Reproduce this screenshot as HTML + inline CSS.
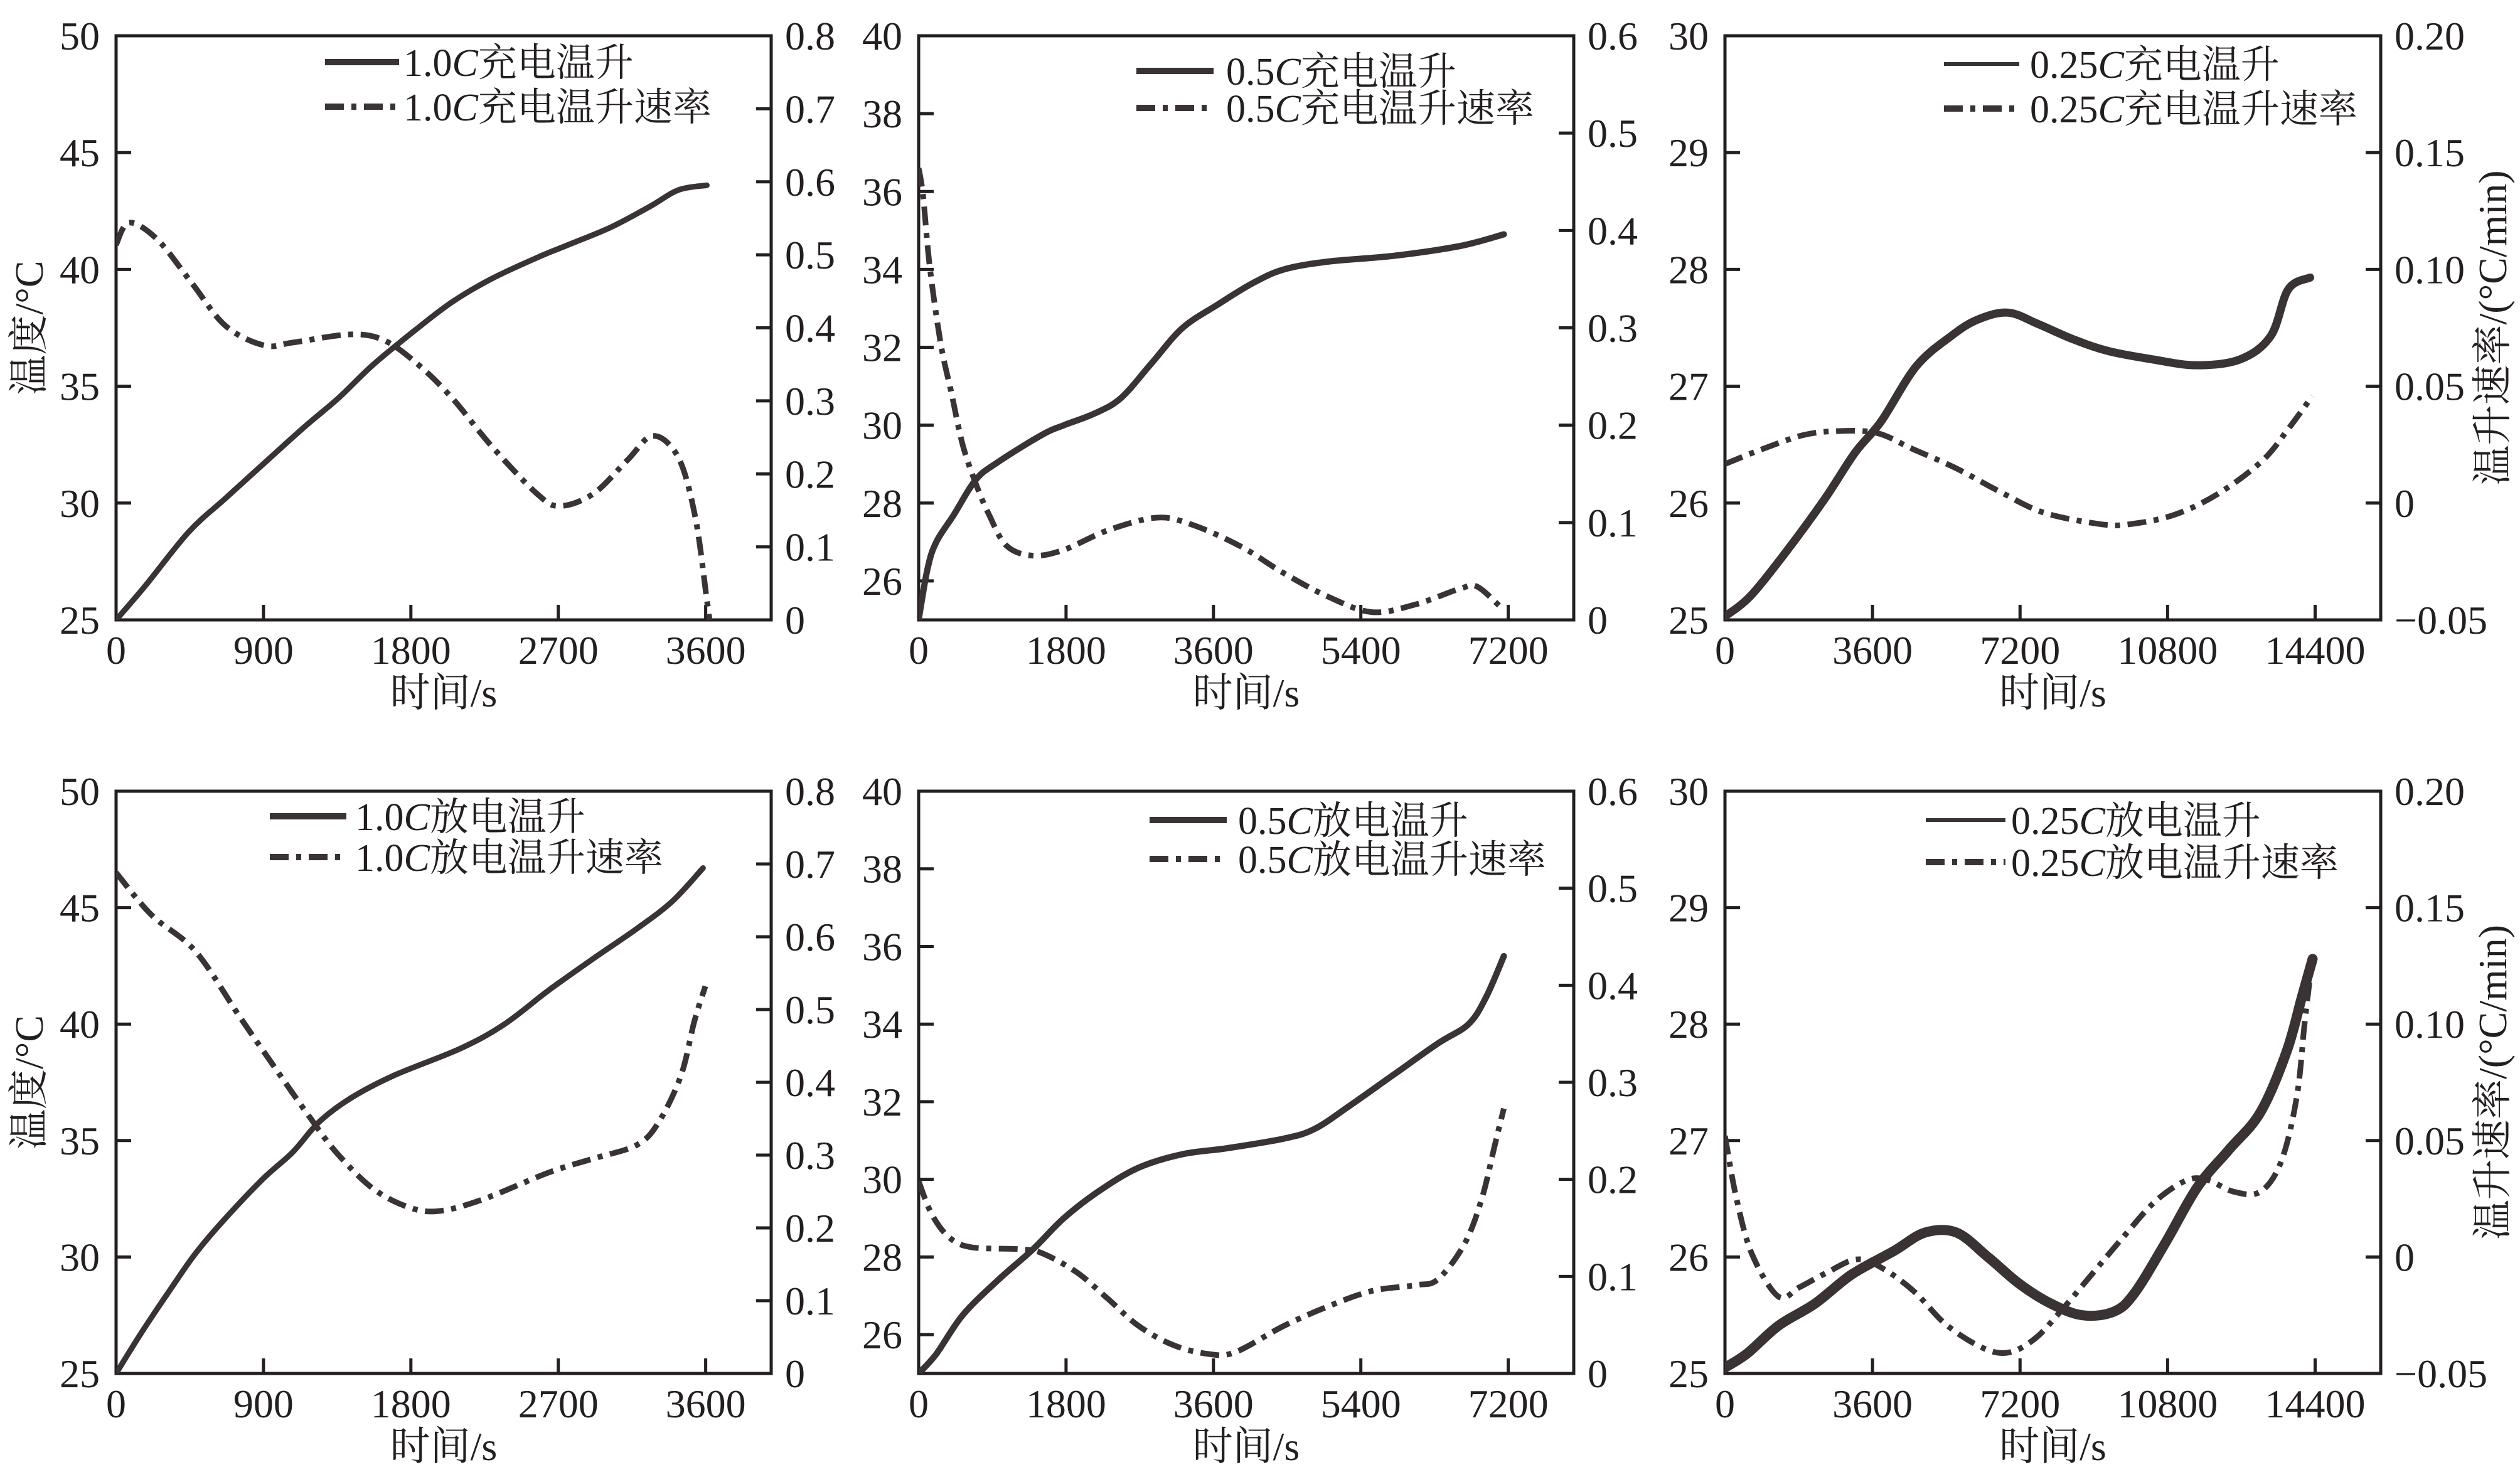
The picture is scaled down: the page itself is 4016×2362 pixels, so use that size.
<!DOCTYPE html>
<html><head><meta charset="utf-8">
<style>
html,body{margin:0;padding:0;background:#fff;}
svg{display:block;}
text{font-family:"Liberation Serif","Noto Serif CJK SC","Noto Sans CJK SC",serif;fill:#231f20;}
</style></head>
<body>
<svg id="chart" width="4016" height="2362" viewBox="0 0 4016 2362" xmlns="http://www.w3.org/2000/svg"></svg>
<script>
// ---- data (time s, temperature °C, rate °C/min) ----
const p1TempT=[0,183,443,667,903,1152,1359,1566,1826,2051,2293,2569,2742,3019,3261,3434,3607];
const p1TempV=[25,26.5,28.76,30.2,31.7,33.27,34.5,35.9,37.4,38.6,39.6,40.5,41,41.8,42.7,43.4,43.6];
const p1RateT=[0,80,252,460,667,903,1082,1428,1636,1843,2051,2293,2569,2708,2915,3123,3278,3434,3537,3607,3624];
const p1RateV=[0.514,0.544,0.521,0.462,0.403,0.376,0.38,0.391,0.383,0.35,0.304,0.238,0.173,0.156,0.173,0.219,0.252,0.222,0.14,0.028,0];

const p2TempT=[0,107,215,430,698,967,1504,1773,2149,2472,2848,3224,3654,4083,4460,4997,5803,6609,7146];
const p2TempV=[25,26.3,27,27.7,28.6,29.05,29.75,30,30.3,30.7,31.6,32.5,33.1,33.65,34,34.2,34.35,34.6,34.9];
const p2RateT=[0,54,134,269,403,537,698,860,1075,1397,1773,2310,2901,3331,3922,4460,4997,5534,6071,6609,6824,7146];
const p2RateV=[0.464,0.436,0.364,0.284,0.232,0.18,0.14,0.108,0.076,0.066,0.072,0.092,0.105,0.098,0.076,0.048,0.024,0.008,0.016,0.032,0.034,0.01];

const p3TempT=[0,609,1463,2424,3171,3812,4666,5520,6161,6909,7657,8511,9365,10433,11501,12569,13317,13744,14278];
const p3TempV=[25.03,25.2,25.57,26.03,26.43,26.7,27.17,27.43,27.57,27.63,27.53,27.4,27.3,27.23,27.18,27.23,27.43,27.83,27.93];
const p3RateT=[0,822,1890,2745,3706,4560,5628,6696,7764,9152,9899,10967,12035,13103,13744,14331];
const p3RateV=[0.0167,0.0225,0.029,0.0308,0.03,0.0233,0.015,0.005,-0.004,-0.009,-0.009,-0.005,0.004,0.018,0.0317,0.0458];

const p4TempT=[0,162,350,485,647,889,1078,1240,1428,1698,2102,2372,2641,2911,3180,3396,3584];
const p4TempV=[25,26.83,28.8,30.15,31.5,33.3,34.5,35.8,36.8,37.8,38.95,40,41.45,42.8,44.1,45.27,46.7];
const p4RateT=[0,216,485,755,970,1186,1347,1563,1779,1967,2237,2641,2911,3180,3315,3450,3531,3598];
const p4RateV=[0.688,0.63,0.58,0.49,0.42,0.351,0.303,0.255,0.229,0.223,0.239,0.276,0.295,0.314,0.346,0.41,0.484,0.532];

const p5TempT=[0,215,537,967,1397,1773,2203,2686,3224,3761,4460,4836,5266,5803,6340,6716,6931,7146];
const p5TempV=[25,25.5,26.5,27.4,28.2,29,29.7,30.3,30.65,30.8,31.05,31.3,31.9,32.7,33.5,34,34.7,35.75];
const p5RateT=[0,161,376,645,1236,1504,1934,2310,2686,3116,3546,3868,4460,4997,5534,6071,6340,6663,6877,7038,7146];
const p5RateV=[0.198,0.164,0.14,0.13,0.128,0.124,0.104,0.077,0.049,0.029,0.02,0.022,0.049,0.069,0.085,0.091,0.097,0.133,0.18,0.236,0.273];

const p6TempT=[0,537,1304,2198,3093,4115,4882,5649,6415,7182,7949,8716,9483,9994,10760,11527,12294,13061,13700,14083,14339];
const p6TempV=[25.05,25.17,25.41,25.6,25.85,26.05,26.21,26.21,26,25.77,25.6,25.5,25.53,25.69,26.13,26.6,26.92,27.24,27.76,28.24,28.56];
const p6RateT=[0,281,665,1304,1815,2454,3220,3860,4627,5394,6288,6927,7566,8205,8972,9739,10505,11272,11783,12422,13061,13572,13955,14147,14339];
const p6RateV=[0.052,0.025,0.001,-0.017,-0.013,-0.007,-0.001,-0.005,-0.015,-0.029,-0.039,-0.041,-0.035,-0.023,-0.007,0.009,0.024,0.033,0.033,0.028,0.028,0.041,0.069,0.101,0.129];

// tick label arrays
const xTicks1=[0,900,1800,2700,3600];
const xTicks2=[0,1800,3600,5400,7200];
const xTicks3=[0,3600,7200,10800,14400];
const yTicksA=["25","30","35","40","45","50"];
const yTicksB=["26","28","30","32","34","36","38","40"];
const yTicksC=["25","26","27","28","29","30"];
const rTicksA=["0","0.1","0.2","0.3","0.4","0.5","0.6","0.7","0.8"];
const rTicksB=["0","0.1","0.2","0.3","0.4","0.5","0.6"];
const rTicksC=["\u22120.05","0","0.05","0.10","0.15","0.20"];

const legendCharge=["充电温升","充电温升速率"];
const legendDischarge=["放电温升","放电温升速率"];

const NS="http://www.w3.org/2000/svg";
const svg=document.getElementById('chart');
const INK="#3a3333";
const FS=64;
function mk(tag,attrs,parent){const e=document.createElementNS(NS,tag);for(const k in attrs)e.setAttribute(k,attrs[k]);(parent||svg).appendChild(e);return e;}
function num(s){return parseFloat(s.replace('\u2212','-'));}

function smoothPath(pts){
  let d="M"+pts[0][0].toFixed(1)+","+pts[0][1].toFixed(1);
  for(let i=0;i<pts.length-1;i++){
    const p0=pts[Math.max(0,i-1)],p1=pts[i],p2=pts[i+1],p3=pts[Math.min(pts.length-1,i+2)];
    const c1x=p1[0]+(p2[0]-p0[0])/6,c1y=p1[1]+(p2[1]-p0[1])/6;
    const c2x=p2[0]-(p3[0]-p1[0])/6,c2y=p2[1]-(p3[1]-p1[1])/6;
    d+=" C"+c1x.toFixed(1)+","+c1y.toFixed(1)+" "+c2x.toFixed(1)+","+c2y.toFixed(1)+" "+p2[0].toFixed(1)+","+p2[1].toFixed(1);
  }
  return d;
}

function panel(cfg){
  const g=mk('g',{});
  
  
  const L=cfg.x0,R=cfg.x1,T=cfg.y0,B=cfg.y1;
  const sx=v=>L+(v-0)/(cfg.xmax)*(R-L);
  const syL=v=>B-(v-cfg.ymin)/(cfg.ymax-cfg.ymin)*(B-T);
  const syR=v=>B-(v-cfg.rmin)/(cfg.rmax-cfg.rmin)*(B-T);
  const fr=mk('rect',{x:L,y:T,width:R-L,height:B-T,fill:'none',stroke:'#231f20','stroke-width':5},g);
  
  
  cfg.xTicks.forEach(v=>{
    const x=sx(v);
    const t=mk('line',{x1:x,y1:B,x2:x,y2:B-24,stroke:'#231f20','stroke-width':5},g);
    
    
    const lb=mk('text',{x:x,y:B+70,'font-size':FS,'text-anchor':'middle'},g);
    lb.textContent=String(v);
    
    
  });
  cfg.yTicks.forEach(s=>{
    const y=syL(num(s));
    const t=mk('line',{x1:L,y1:y,x2:L+24,y2:y,stroke:'#231f20','stroke-width':5},g);
    
    
    const lb=mk('text',{x:L-26,y:y+22,'font-size':FS,'text-anchor':'end'},g);
    lb.textContent=s;
    
    
  });
  cfg.rTicks.forEach(s=>{
    const y=syR(num(s));
    const t=mk('line',{x1:R,y1:y,x2:R-24,y2:y,stroke:'#231f20','stroke-width':5},g);
    
    
    const lb=mk('text',{x:R+22,y:y+22,'font-size':FS,'text-anchor':'start'},g);
    lb.textContent=s;
    
    
  });
  const xt=mk('text',{x:(L+R)/2,y:B+138,'font-size':FS,'text-anchor':'middle'},g);
  xt.textContent="时间/s";
  
  
  if(cfg.leftTitle){
    const cy=(T+B)/2;
    const lt=mk('text',{x:0,y:0,'font-size':FS,'text-anchor':'middle',transform:`translate(68,${cy}) rotate(-90)`},g);
    lt.textContent="温度/°C";
    
    
  }
  if(cfg.rightTitle){
    const cy=(T+B)/2;
    const rt=mk('text',{x:0,y:0,'font-size':FS,'text-anchor':'middle',transform:`translate(3994,${cy}) rotate(-90)`},g);
    rt.textContent="温升速率/(°C/min)";
    
    
  }
  const cid='clip'+cfg.name;
  const cp=mk('clipPath',{id:cid},g);
  mk('rect',{x:L,y:T,width:R-L,height:B-T},cp);
  const tp=cfg.tempT.map((t,i)=>[sx(t),syL(cfg.tempV[i])]);
  const tl=mk('path',{d:smoothPath(tp),fill:'none',stroke:INK,'stroke-width':cfg.tw,'stroke-linejoin':'round','stroke-linecap':'round','clip-path':`url(#${cid})`},g);
  
  
  const rp=cfg.rateT.map((t,i)=>[sx(t),syR(cfg.rateV[i])]);
  const rl=mk('path',{d:smoothPath(rp),fill:'none',stroke:INK,'stroke-width':9,'stroke-dasharray':'30 12 8 12','clip-path':`url(#${cid})`},g);
  
  
  const lx=L+cfg.lg[0],lx2=L+cfg.lg[1],tx=L+cfg.lg[2],r1=T+cfg.lg[3],r2=T+cfg.lg[4];
  const l1=mk('line',{x1:lx,y1:r1,x2:lx2,y2:r1,stroke:INK,'stroke-width':cfg.tw>10?6:10},g);
  
  
  const l2=mk('line',{x1:lx,y1:r2,x2:lx2,y2:r2,stroke:INK,'stroke-width':10,'stroke-dasharray':'30 12 8 12'},g);
  
  
  [[r1,cfg.legend[0],'legend-temperature'],[r2,cfg.legend[1],'legend-rate']].forEach(([ry,txt,nm])=>{
    const te=mk('text',{x:tx,y:ry+22,'font-size':62},g);
    
    
    const a=mk('tspan',{},te);a.textContent=cfg.rateLabel;
    const c=mk('tspan',{'font-style':'italic'},te);c.textContent="C";
    const d=mk('tspan',{},te);d.textContent=txt;
  });
}

const TOP=[57,988],BOT=[1261,2189];
const COLS=[[185,1229],[1464,2508],[2749,3794]];
panel({name:'panel-1c-charge',x0:COLS[0][0],x1:COLS[0][1],y0:TOP[0],y1:TOP[1],xmax:4000,ymin:25,ymax:50,rmin:0,rmax:0.8,xTicks:xTicks1,yTicks:yTicksA,rTicks:rTicksA,tempT:p1TempT,tempV:p1TempV,rateT:p1RateT,rateV:p1RateV,tw:9,leftTitle:true,lg:[333,451,458,42,113],legend:legendCharge,rateLabel:"1.0"});
panel({name:'panel-05c-charge',x0:COLS[1][0],x1:COLS[1][1],y0:TOP[0],y1:TOP[1],xmax:8000,ymin:25,ymax:40,rmin:0,rmax:0.6,xTicks:xTicks2,yTicks:yTicksB,rTicks:rTicksB,tempT:p2TempT,tempV:p2TempV,rateT:p2RateT,rateV:p2RateV,tw:10,lg:[347,470,490,56,115],legend:legendCharge,rateLabel:"0.5"});
panel({name:'panel-025c-charge',x0:COLS[2][0],x1:COLS[2][1],y0:TOP[0],y1:TOP[1],xmax:16000,ymin:25,ymax:30,rmin:-0.05,rmax:0.2,xTicks:xTicks3,yTicks:yTicksC,rTicks:rTicksC,tempT:p3TempT,tempV:p3TempV,rateT:p3RateT,rateV:p3RateV,tw:13,rightTitle:true,lg:[349,469,486,45,116],legend:legendCharge,rateLabel:"0.25"});
panel({name:'panel-1c-discharge',x0:COLS[0][0],x1:COLS[0][1],y0:BOT[0],y1:BOT[1],xmax:4000,ymin:25,ymax:50,rmin:0,rmax:0.8,xTicks:xTicks1,yTicks:yTicksA,rTicks:rTicksA,tempT:p4TempT,tempV:p4TempV,rateT:p4RateT,rateV:p4RateV,tw:9,leftTitle:true,lg:[245,367,381,40,105],legend:legendDischarge,rateLabel:"1.0"});
panel({name:'panel-05c-discharge',x0:COLS[1][0],x1:COLS[1][1],y0:BOT[0],y1:BOT[1],xmax:8000,ymin:25,ymax:40,rmin:0,rmax:0.6,xTicks:xTicks2,yTicks:yTicksB,rTicks:rTicksB,tempT:p5TempT,tempV:p5TempV,rateT:p5RateT,rateV:p5RateV,tw:10,lg:[368,491,509,46,108],legend:legendDischarge,rateLabel:"0.5"});
panel({name:'panel-025c-discharge',x0:COLS[2][0],x1:COLS[2][1],y0:BOT[0],y1:BOT[1],xmax:16000,ymin:25,ymax:30,rmin:-0.05,rmax:0.2,xTicks:xTicks3,yTicks:yTicksC,rTicks:rTicksC,tempT:p6TempT,tempV:p6TempV,rateT:p6RateT,rateV:p6RateV,tw:16,rightTitle:true,lg:[320,447,456,46,113],legend:legendDischarge,rateLabel:"0.25"});
</script>
</body></html>
